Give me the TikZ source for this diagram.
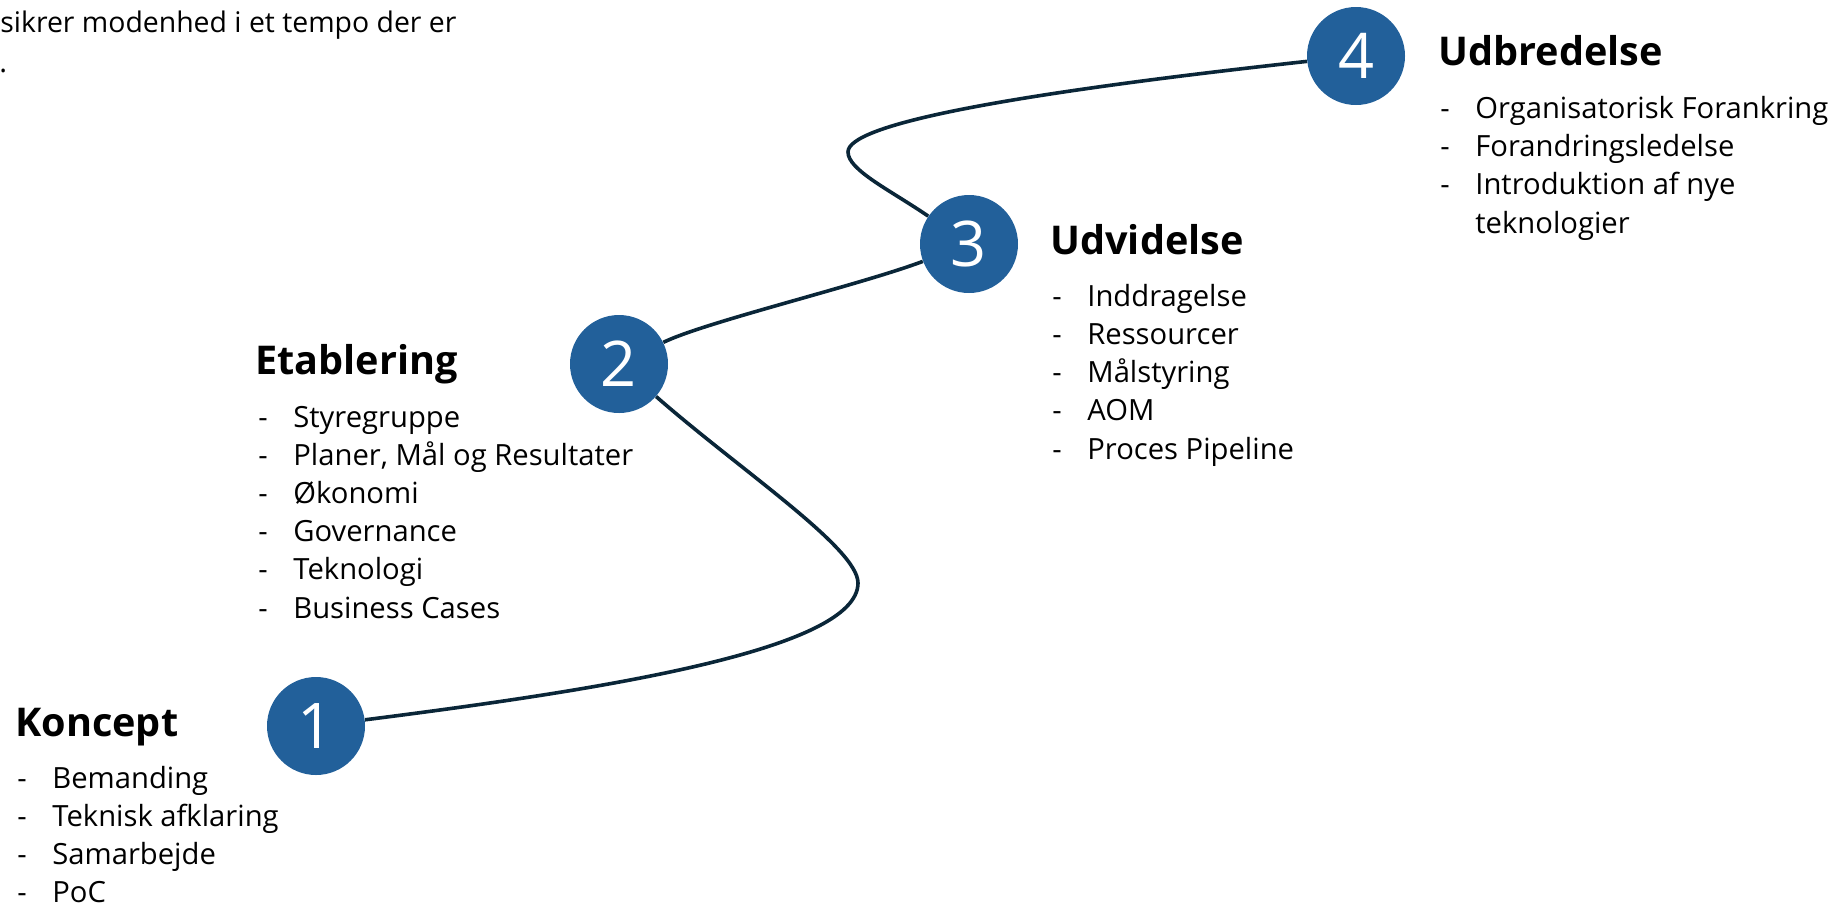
\documentclass[tikz,border=0pt]{standalone}
\usepackage{fontspec}
\setmainfont{Open Sans}
\definecolor{stageblue}{RGB}{34,96,154}
\definecolor{roadline}{RGB}{10,38,56}

\begin{document}
\begin{tikzpicture}[x = 0.5pt, y = -0.5pt,
    stage/.style = {circle, fill = stageblue, inner sep = 0pt, minimum size = 49pt,
        text = white, font = \fontsize{31.5}{31.5}\selectfont},
    head/.style = {anchor = base west, inner sep = 0pt, font = \bfseries\fontsize{19.8}{23}\selectfont},
    item/.style = {anchor = base west, inner sep = 0pt, font = \fontsize{14.6}{19}\selectfont},
    road/.style = {draw = roadline, line width = 1.8pt}]

    \useasboundingbox (0,0) rectangle (1848,907);

    %Intro
    \node [item, font = \fontsize{14.2}{19}\selectfont] (intro1) at (0,32) {sikrer modenhed i et tempo der er};
    \node [item] (intro2) at (-1,72) {.};

    %Stages
    \node [stage] (c1) at (316,726) {1};
    \node [stage] (c2) at (619,364) {2};
    \node [stage] (c3) at (969,244) {3};
    \node [stage] (c4) at (1356,56) {4};

    %Road
    \draw [road] (c1) .. controls (600,690) and (858,650) .. (858,583)
        .. controls (858,548) and (740,470) .. (c2);
    \draw [road] (c2) .. controls (705,322) and (860,285) .. (c3);
    \draw [road] (c3) .. controls (890,190) and (848,170) .. (848,152)
        .. controls (848,125) and (1000,95) .. (c4);

    %Koncept
    \node [head] (hk) at (15,736) {Koncept};
    \foreach \t [count = \i] in {Bemanding, Teknisk afklaring, Samarbejde, PoC}
        \node [item] (k\i) at (17, 750 + 38*\i) {\makebox[17.5pt][l]{-}\t};

    %Etablering
    \node [head] (he) at (255,374) {Etablering};
    \foreach \t [count = \i] in {Styregruppe, {Planer, Mål og Resultater}, Økonomi,
        Governance, Teknologi, Business Cases}
        \node [item] (e\i) at (258, 388.8 + 38.2*\i) {\makebox[17.5pt][l]{-}\t};

    %Udvidelse
    \node [head] (hu) at (1050,254) {Udvidelse};
    \foreach \t [count = \i] in {Inddragelse, Ressourcer, Målstyring, AOM, Proces Pipeline}
        \node [item] (u\i) at (1052, 267.7 + 38.3*\i) {\makebox[17.5pt][l]{-}\t};

    %Udbredelse
    \node [head] (hb) at (1438,65) {Udbredelse};
    \foreach \t [count = \i] in {Organisatorisk Forankring, Forandringsledelse, Introduktion af nye}
        \node [item] (b\i) at (1440, 79.7 + 38.3*\i) {\makebox[17.5pt][l]{-}\t};
    \node [item] (b4) at (1440,233) {\hspace*{17.5pt}teknologier};

\end{tikzpicture}
\end{document}
